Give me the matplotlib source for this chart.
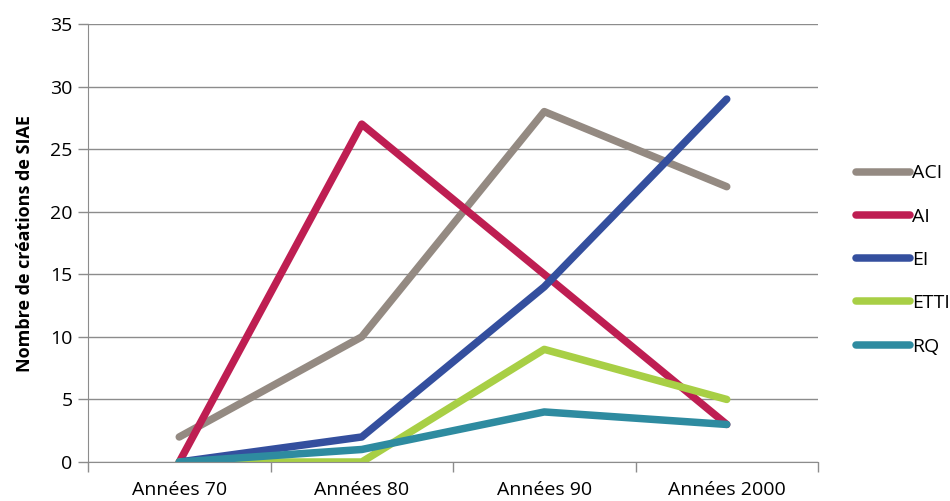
import matplotlib
matplotlib.use("Agg")
import matplotlib.pyplot as plt

categories = ["Années 70", "Années 80", "Années 90", "Années 2000"]
series_names = ["ACI", "AI", "EI", "ETTI", "RQ"]
aci = [2, 10, 28, 22]
ai = [0, 27, 15, 3]
ei = [0, 2, 14, 29]
etti = [0, 0, 9, 5]
rq = [0, 1, 4, 3]
colors = ["#948A82", "#BE1E52", "#344F9E", "#A8CF45", "#2E8BA0"]

plt.rcParams['font.family'] = ['Open Sans', 'DejaVu Sans']

fig = plt.figure(figsize=(9.5, 5.01), dpi=100)
ax = fig.add_axes([88/950, 1-462/501, (818-88)/950, (462-24)/501])

x = list(range(len(categories)))
for name, vals, c in zip(series_names, [aci, ai, ei, etti, rq], colors):
    ax.plot(x, vals, color=c, lw=5.4, solid_capstyle='round', solid_joinstyle='round', label=name)

ax.set_xlim(-0.5, 3.5)
ax.set_ylim(0, 35)
ax.set_yticks(range(0, 36, 5))
ax.yaxis.grid(True, color="#8C8C8C", lw=1)
ax.set_axisbelow(True)
ax.set_xticks(x)
ax.set_xticklabels(categories)
ax.set_xticks([-0.5, 0.5, 1.5, 2.5, 3.5], minor=True)
ax.tick_params(axis='x', which='major', length=0, pad=14, labelsize=14)
ax.tick_params(axis='x', which='minor', length=7, color="#8C8C8C", width=1)
ax.tick_params(axis='y', length=7, color="#8C8C8C", width=1, labelsize=14, pad=4)
for s in ['top', 'right']:
    ax.spines[s].set_visible(False)
ax.spines['left'].set_color("#8C8C8C")
ax.spines['bottom'].set_color("#8C8C8C")
ax.set_ylabel("Nombre de créations de SIAE", fontsize=13, fontweight='bold', labelpad=12)

leg = fig.legend(loc='center left', bbox_to_anchor=(838/950, 1-260/501), frameon=False,
                 fontsize=14, handlelength=2.8, handletextpad=0.1, labelspacing=1.3)

fig.savefig("out.png", dpi=100)
